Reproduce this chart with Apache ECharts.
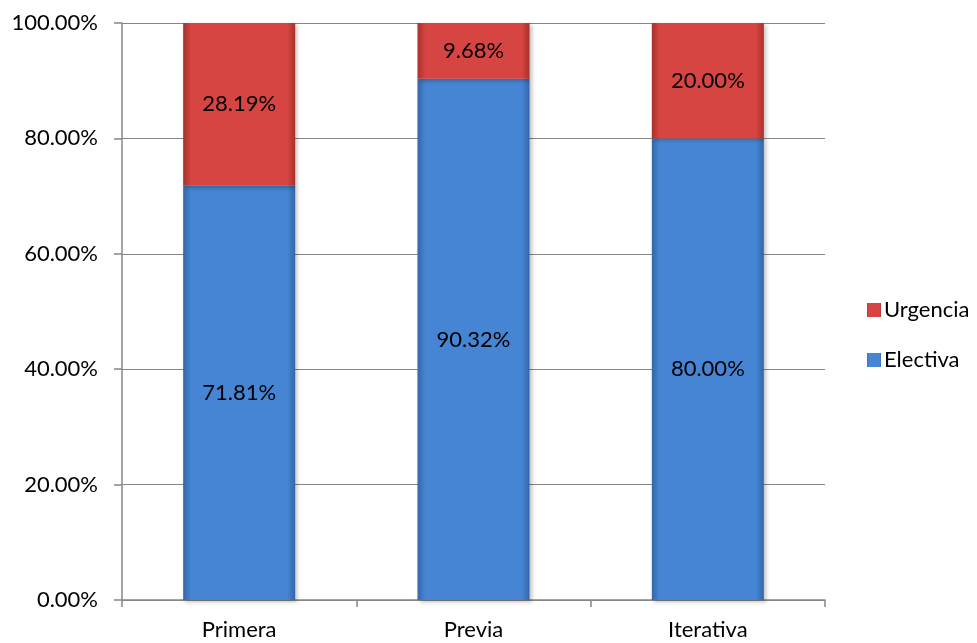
<!DOCTYPE html>
<html><head><meta charset="utf-8">
<script src="https://cdn.jsdelivr.net/npm/echarts@6/dist/echarts.min.js"></script>
<style>html,body{margin:0;padding:0;background:#fff}#c{width:977px;height:643px}</style>
</head><body><div id="c"></div>
<script>
var categories = ['Primera', 'Previa', 'Iterativa'];
var electiva = [71.81, 90.32, 80.00];
var urgencia = [28.19, 9.68, 20.00];
var yTicks = [0, 20, 40, 60, 80, 100];

var font = 'Lato';
var fs = 22;
function grad(edge, mid) {
  return new echarts.graphic.LinearGradient(0, 0, 1, 0, [
    {offset: 0, color: edge}, {offset: 0.07, color: mid}, {offset: 0.93, color: mid}, {offset: 1, color: edge}
  ]);
}
var chart = echarts.init(document.getElementById('c'));
chart.setOption({
  animation: false,
  grid: {left: 122, right: 152, top: 23, bottom: 43},
  legend: {
    orient: 'vertical', left: 862, top: 294, itemGap: 28, itemWidth: 14, itemHeight: 14,
    icon: 'rect',
    data: ['Urgencia', 'Electiva'],
    textStyle: {fontFamily: font, fontSize: fs, color: '#000', padding: [0,0,0,-2]}
  },
  xAxis: {
    type: 'category', data: categories,
    axisLine: {lineStyle: {color: '#868686', width: 1.5}},
    axisTick: {show: true, length: 7, lineStyle: {color: '#868686', width: 1.5}},
    axisLabel: {fontFamily: font, fontSize: fs, color: '#000', margin: 19}
  },
  yAxis: {
    type: 'value', min: yTicks[0], max: yTicks[yTicks.length-1], interval: 20,
    axisLine: {show: true, lineStyle: {color: '#868686', width: 1.5}},
    axisTick: {show: true, length: 8, lineStyle: {color: '#868686', width: 1.5}},
    splitLine: {lineStyle: {color: '#868686', width: 1}},
    axisLabel: {fontFamily: font, fontSize: fs, color: '#000', margin: 24,
      formatter: function(v){ return v.toFixed(2) + '%'; }}
  },
  series: [
    {name: 'Electiva', type: 'bar', stack: 't', data: electiva, barWidth: 112,
      itemStyle: {color: grad('#3566a6', '#4585d4'), shadowColor: 'rgba(0,0,0,0.25)', shadowBlur: 4, shadowOffsetX: 2, shadowOffsetY: 2},
      label: {show: true, position: 'inside', fontFamily: font, fontSize: fs, color: '#000',
        formatter: function(p){ return p.value.toFixed(2) + '%'; }}},
    {name: 'Urgencia', type: 'bar', stack: 't', data: urgencia, barWidth: 112,
      itemStyle: {color: grad('#a8302c', '#d64541'), shadowColor: 'rgba(0,0,0,0.25)', shadowBlur: 4, shadowOffsetX: 2, shadowOffsetY: 2},
      label: {show: true, position: 'inside', fontFamily: font, fontSize: fs, color: '#000',
        formatter: function(p){ return p.value.toFixed(2) + '%'; }}}
  ]
});
</script></body></html>
